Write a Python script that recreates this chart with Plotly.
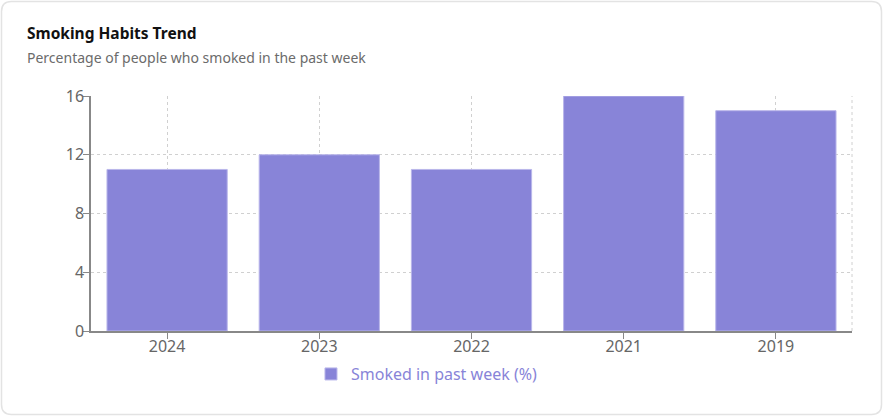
import plotly.graph_objects as go

# data
years = ['2024', '2023', '2022', '2021', '2019']
smoked_pct = [11, 12, 11, 16, 15]
y_ticks = [0, 4, 8, 12, 16]

W, H = 884, 417
ML, MR, MT, MB = 91, 32, 96, 86
pw, ph = W - ML - MR, H - MT - MB


def px(x):
    return (x - ML) / pw


def py(y):
    return 1 - (y - MT) / ph


# rounded card outline, in paper coords
x0, x1, y0, y1, r = 1.5, 881.5, 1.5, 414.5, 10
card = (f"M {px(x0 + r)},{py(y0)} L {px(x1 - r)},{py(y0)} "
        f"Q {px(x1)},{py(y0)} {px(x1)},{py(y0 + r)} "
        f"L {px(x1)},{py(y1 - r)} Q {px(x1)},{py(y1)} {px(x1 - r)},{py(y1)} "
        f"L {px(x0 + r)},{py(y1)} Q {px(x0)},{py(y1)} {px(x0)},{py(y1 - r)} "
        f"L {px(x0)},{py(y0 + r)} Q {px(x0)},{py(y0)} {px(x0 + r)},{py(y0)} Z")

fig = go.Figure()
fig.add_trace(go.Bar(x=years, y=smoked_pct,
                     name='Smoked in past week (%)',
                     marker=dict(color='#8884d8', line=dict(color='#b9b6ea', width=1)),
                     showlegend=True))

fig.update_layout(
    width=W, height=H,
    margin=dict(l=ML, r=MR, t=MT, b=MB, autoexpand=False),
    paper_bgcolor='white', plot_bgcolor='white',
    font=dict(family='Noto Sans, Open Sans, sans-serif', color='#666'),
    bargap=0.21,
    showlegend=True,
    legend=dict(orientation='h', xref='container', x=0.483, xanchor='center',
                yref='container', y=0.103, yanchor='middle',
                font=dict(size=16, color='#8884d8'), itemwidth=30),
    shapes=[
        dict(type='path', xref='paper', yref='paper', path=card,
             line=dict(color='#e3e3e3', width=1.5), layer='below'),
        dict(type='line', xref='paper', yref='paper', x0=1, x1=1, y0=0, y1=1,
             line=dict(color='#d0d0d0', width=1, dash='dot'), layer='below'),
    ],
    annotations=[
        dict(text='<b>Smoking Habits Trend</b>', xref='paper', yref='paper',
             x=px(25), y=py(33), xanchor='left', yanchor='middle', showarrow=False,
             font=dict(size=15.5, color='#111')),
        dict(text='Percentage of people who smoked in the past week', xref='paper', yref='paper',
             x=px(25), y=py(57), xanchor='left', yanchor='middle', showarrow=False,
             font=dict(size=14, color='#6b6b6b')),
    ],
)

fig.update_xaxes(type='category', showgrid=True, gridcolor='#d0d0d0', griddash='dot',
                 showline=True, linecolor='#888', linewidth=1.5,
                 ticks='outside', ticklen=6, tickcolor='#888', ticklabelstandoff=-6,
                 tickfont=dict(size=16, color='#666'))
fig.update_yaxes(range=[0, 16], tickvals=y_ticks, showgrid=True, gridcolor='#d0d0d0',
                 griddash='dot', zeroline=False,
                 showline=True, linecolor='#888', linewidth=1.5,
                 ticks='outside', ticklen=6, tickcolor='#888', ticklabelstandoff=-4,
                 tickfont=dict(size=16, color='#666'))

# page body has a default 8px margin; drop it so the card sits at the window edge
fig.write_html("out.html", config={'displayModeBar': False},
               post_script="document.body.style.margin='0';")
